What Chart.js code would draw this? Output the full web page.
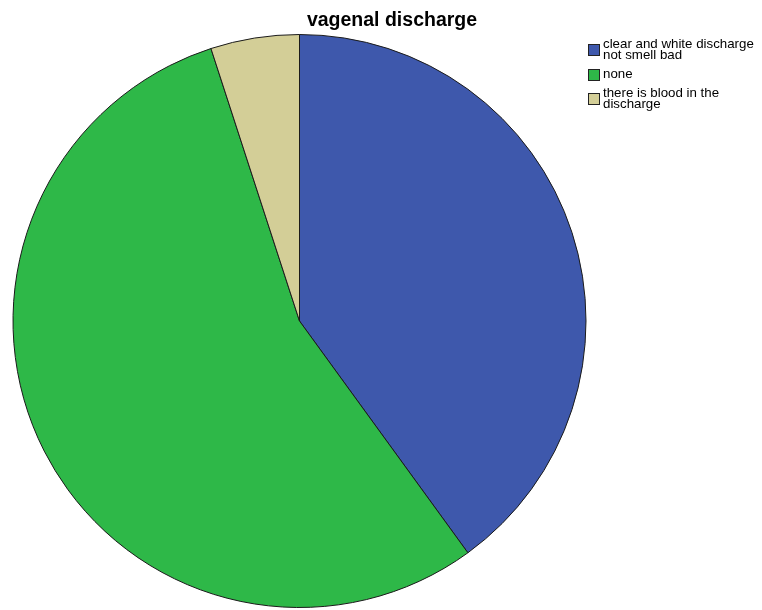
<!DOCTYPE html>
<html>
<head>
<meta charset="utf-8">
<script src="https://cdn.jsdelivr.net/npm/chart.js@4/dist/chart.umd.min.js"></script>
<style>
  html, body { margin: 0; padding: 0; background: #fff; }
  #wrap { width: 762px; height: 610px; }
</style>
</head>
<body>
<div id="wrap"><canvas id="pie" width="762" height="610"></canvas></div>
<script>
// responses per category
const categories = [
  ['clear and white discharge', 'not smell bad'],
  ['none'],
  ['there is blood in the', 'discharge']
];
const counts = [8, 11, 1];
const sliceColors = ['#3e58ac', '#2eb848', '#d3ce97'];
const titleText = 'vagenal discharge';

// title + boxed legend drawn straight onto the canvas (SPSS look)
const spssDecor = {
  id: 'spssDecor',
  afterDraw(chart) {
    const ctx = chart.ctx;
    ctx.save();
    ctx.fillStyle = '#000';
    ctx.font = 'bold 19.5px "Liberation Sans", Arial, sans-serif';
    ctx.textAlign = 'center';
    ctx.textBaseline = 'alphabetic';
    ctx.fillText(titleText, 392, 26);

    const ds = chart.data.datasets[0];
    const rowCenters = [49, 74, 98];
    ctx.font = '13.3px "Liberation Sans", Arial, sans-serif';
    ctx.textAlign = 'left';
    ctx.textBaseline = 'middle';
    chart.data.labels.forEach((lines, i) => {
      const cy = rowCenters[i];
      ctx.fillStyle = ds.backgroundColor[i];
      ctx.fillRect(588, cy - 5, 11, 11);
      ctx.strokeStyle = '#222';
      ctx.lineWidth = 1;
      ctx.strokeRect(588.5, cy - 4.5, 11, 11);
      ctx.fillStyle = '#000';
      const lh = 11;
      const top = cy + 0.5 - (lines.length - 1) * lh / 2;
      lines.forEach((t, k) => ctx.fillText(t, 603, top + k * lh));
    });
    ctx.restore();
  }
};

new Chart(document.getElementById('pie').getContext('2d'), {
  type: 'pie',
  data: {
    labels: categories,
    datasets: [{
      data: counts,
      backgroundColor: sliceColors,
      borderColor: '#1a1a1a',
      borderWidth: 1
    }]
  },
  options: {
    responsive: false,
    animation: false,
    layout: { padding: { left: 12, top: 34, right: 175, bottom: 2 } },
    plugins: {
      legend: { display: false },
      title: { display: false },
      tooltip: { enabled: false }
    }
  },
  plugins: [spssDecor]
});
</script>
</body>
</html>
